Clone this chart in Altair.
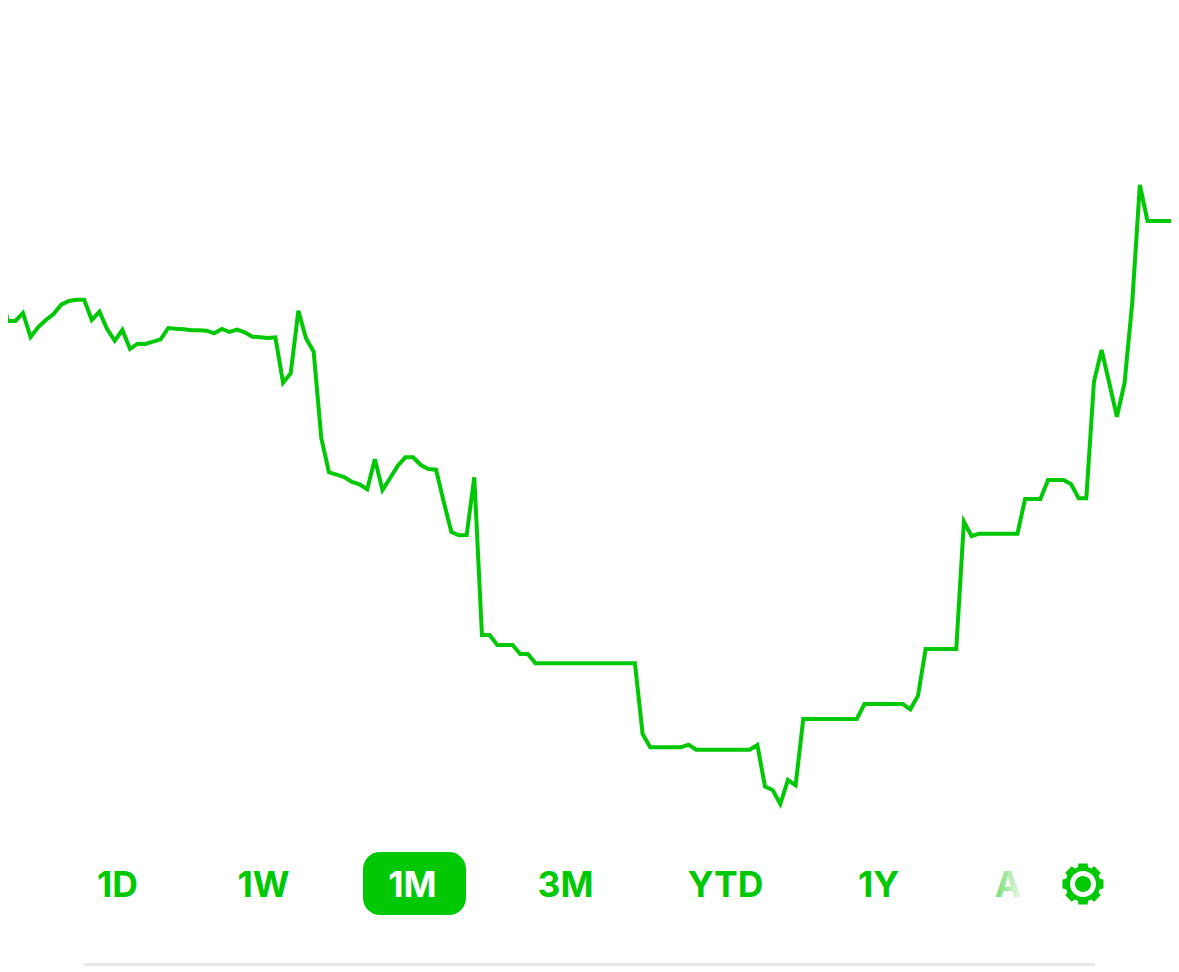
import math
import altair as alt
import pandas as pd

# Series (taller = higher value), one per period
prices = [
    690, 651, 651, 659, 635, 645, 652, 658, 667.3, 671, 672.3, 672.3, 652, 660.3, 643, 631.3,
    642, 623, 628.3, 628, 630.3, 632.7, 644, 643.3, 642.7, 641.7, 641.7, 641.3, 638.7, 643,
    640, 642.3, 639.7, 635.3, 634.7, 634, 634.7, 589.3, 598.7, 661.3, 633.7, 620.3,
    533.7, 499.7, 497.3, 495, 490, 487.7, 482.7, 512.7, 482, 494, 506.3, 514.7, 514.7, 507,
    503, 502.3, 470.3, 440, 436.7, 437, 494.7, 337, 337, 327, 327, 327, 318, 318, 308.7,
    308.7, 308.7, 308.7, 308.7, 308.7, 308.7, 308.7, 308.7, 308.7, 308.7, 308.7, 308.7, 308.7,
    238, 224.7, 224.7, 224.7, 224.7, 224.7, 227.3, 222.3, 222.3, 222.3, 222.3, 222.3, 222.3,
    222.3, 222.3, 227, 185.3, 182, 168, 192, 186.7, 253, 253, 253, 253, 253, 253, 253, 253,
    268, 268, 268, 268, 268, 268, 262.7, 276.3, 323, 323, 323, 323, 323, 450.3, 436, 438.3,
    438.3, 438.3, 438.3, 438.3, 438.3, 473, 473, 473, 492, 492, 492, 488, 473.7, 473.7,
    590.3, 622, 589, 555.3, 589, 669, 787, 751, 751, 751, 751, 751,
]
periods = list(range(len(prices)))
range_labels = ["1D", "1W", "1M", "3M", "YTD", "1Y", "A"]

GREEN = "#00c805"
W, H = 1163, 958
STEP = 7.65

# Layout, in chart pixels (page pixels less the 8px margin)
label_centres = [109.5, 255.5, 404.5, 557.5, 717.5, 870.5, 1000]


def gear_path(teeth=8, outer=1.0, root=0.84, ring_out=0.62, ring_in=0.38):
    pts = []
    for t in range(teeth):
        a = 2 * math.pi * t / teeth
        w = math.pi / teeth
        for r, off in [(root, -0.76 * w), (outer, -0.56 * w), (outer, 0.56 * w), (root, 0.76 * w)]:
            pts.append((r * math.sin(a + off), -r * math.cos(a + off)))
    d = "M" + " L".join(f"{x:.3f},{y:.3f}" for x, y in pts) + " Z"

    def circle(r, sweep):
        return f" M0,{-r} A{r},{r} 0 1,{sweep} 0,{r} A{r},{r} 0 1,{sweep} 0,{-r} Z"

    return d + circle(ring_out, 0) + circle(ring_in, 1)


x_scale = alt.Scale(domain=[8 / STEP, (8 + W) / STEP], nice=False, zero=False)
y_scale = alt.Scale(domain=[964 - H, 964], nice=False, zero=False)

line = (
    alt.Chart(pd.DataFrame({"period": periods, "price": prices}))
    .mark_line(color=GREEN, strokeWidth=4, clip=True, strokeJoin="miter", interpolate="linear")
    .encode(
        x=alt.X("period:Q", scale=x_scale, axis=None),
        y=alt.Y("price:Q", scale=y_scale, axis=None),
    )
)

pill = alt.Chart(pd.DataFrame({"a": [0]})).mark_rect(color=GREEN, cornerRadius=17).encode(
    x=alt.value(355), x2=alt.value(458), y=alt.value(844), y2=alt.value(907)
)

base_line = alt.Chart(pd.DataFrame({"a": [0]})).mark_rule(color="#e8e8e8", strokeWidth=3).encode(
    x=alt.value(76), x2=alt.value(1087), y=alt.value(956.5)
)

layers = [line, pill, base_line]

for name, cx in zip(range_labels, label_centres):
    if name == "1M":
        colour = "#ffffff"
    elif name == "A":
        colour = alt.LinearGradient(
            gradient="linear", x1=0, x2=1, y1=0.5, y2=0.5,
            stops=[
                alt.GradientStop(offset=0, color="#70dc73"),
                alt.GradientStop(offset=1, color="#e6f9e6"),
            ],
        )
    else:
        colour = GREEN
    layers.append(
        alt.Chart(pd.DataFrame({"label": [name]}))
        .mark_text(font="Inter", fontSize=35.5, fontWeight=700, color=colour, align="center", baseline="middle")
        .encode(x=alt.value(cx), y=alt.value(878), text="label:N")
    )

gear = alt.Chart(pd.DataFrame({"a": [0]})).mark_point(
    shape=gear_path(), size=1764, filled=True, color=GREEN, opacity=1, strokeWidth=0
).encode(x=alt.value(1075), y=alt.value(876))
layers.append(gear)

chart = (
    alt.layer(*layers)
    .properties(width=W, height=H, autosize=alt.AutoSizeParams(type="none"), padding=0)
    .configure_view(stroke=None)
)

chart.save("out.html", embed_options={"renderer": "svg", "actions": False})
